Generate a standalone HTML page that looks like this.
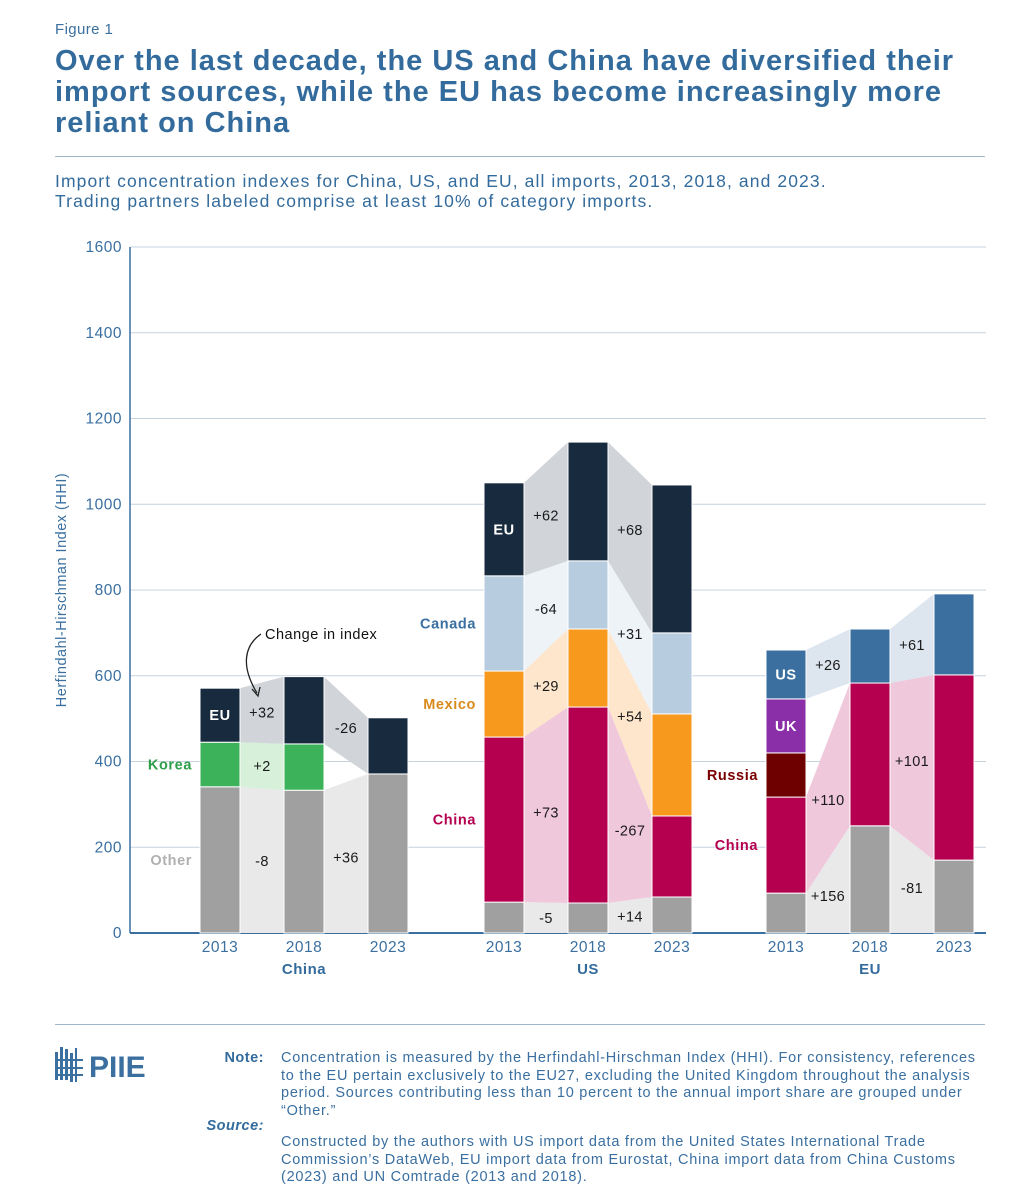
<!DOCTYPE html>
<html><head><meta charset="utf-8"><style>
body{margin:0;background:#fff;font-family:"Liberation Sans",sans-serif;}
#wrap{position:relative;width:1033px;height:1200px;overflow:hidden;background:#fff;}
.abs{position:absolute;white-space:nowrap;}
</style></head><body>
<div id="wrap">
<div class="abs" style="left:55px;top:21px;font-size:15px;color:#3a6fa0;letter-spacing:0.4px">Figure 1</div>
<div class="abs" style="left:55px;top:46px;font-size:29px;line-height:31px;font-weight:bold;color:#336b9c;letter-spacing:1px">Over the last decade, the US and China have diversified their<br>import sources, while the EU has become increasingly more<br>reliant on China</div>
<div class="abs" style="left:55px;top:156px;width:930px;height:1px;background:#9fb7cc"></div>
<div class="abs" style="left:55px;top:171px;font-size:17.5px;line-height:20px;color:#336b9c;letter-spacing:1.1px">Import concentration indexes for China, US, and EU, all imports, 2013, 2018, and 2023.<br>Trading partners labeled comprise at least 10% of category imports.</div>
<svg class="abs" style="left:0;top:0" width="1033" height="1000" id="chart"></svg>
<div class="abs" style="left:55px;top:1024px;width:930px;height:1px;background:#9fb7cc"></div>
<div class="abs" style="left:55px;top:1044px">
<svg width="110" height="42"><g fill="#3a6fa0"><rect x="0" y="8" width="3" height="28"/><rect x="5" y="3" width="3" height="33"/><rect x="10" y="5" width="3" height="31"/><rect x="15" y="9" width="3" height="29"/><rect x="20" y="4" width="2" height="34"/><rect x="0" y="15" width="28" height="2"/><rect x="0" y="23" width="28" height="2"/><rect x="0" y="30" width="28" height="2"/></g><text x="34" y="33" font-size="30" font-weight="bold" fill="#3a6fa0" font-family="Liberation Sans">PIIE</text></svg></div>
<div class="abs" style="left:200px;top:1050px;width:64px;text-align:right;font-size:14.5px;font-weight:bold;color:#336b9c;letter-spacing:0.5px">Note:</div>
<div class="abs" style="left:281px;top:1050px;font-size:14.5px;line-height:17.5px;color:#3a6fa0;letter-spacing:0.75px">Concentration is measured by the Herfindahl-Hirschman Index (HHI). For consistency, references<br>to the EU pertain exclusively to the EU27, excluding the United Kingdom throughout the analysis<br>period. Sources contributing less than 10 percent to the annual import share are grouped under<br>“Other.”</div>
<div class="abs" style="left:190px;top:1118px;width:74px;text-align:right;font-size:14.5px;font-weight:bold;font-style:italic;color:#336b9c;letter-spacing:0.5px">Source:</div>
<div class="abs" style="left:281px;top:1134px;font-size:14.5px;line-height:17.5px;color:#3a6fa0;letter-spacing:0.75px">Constructed by the authors with US import data from the United States International Trade<br>Commission’s DataWeb, EU import data from Eurostat, China import data from China Customs<br>(2023) and UN Comtrade (2013 and 2018).</div>
</div>
<script>
const years=["2013","2018","2023"];
const groups=["China","US","EU"];
const yTicks=[0,200,400,600,800,1000,1200,1400,1600];
const chinaSegs=["Other","Korea","EU"];
const chinaOther=[341,333,371];
const chinaKorea=[104,108,0];
const chinaEU=[126,157,131];
const chinaChanges=[["-8","+36"],["+2",""],["+32","-26"]];
const usSegs=["Other","China","Mexico","Canada","EU"];
const usOther=[72,70,84];
const usChina=[385,457,189];
const usMexico=[154,182,238];
const usCanada=[222,159,189];
const usEU=[217,277,345];
const usChanges=[["-5","+14"],["+73","-267"],["+29","+54"],["-64","+31"],["+62","+68"]];
const euSegs=["Other","China","Russia","UK","US"];
const euOther=[93,250,170];
const euChina=[224,333,432];
const euRussia=[103,0,0];
const euUK=[126,0,0];
const euUS=[114,126,189];
const euChanges=[["+156","-81"],["+110","+101"],["",""],["",""],["+26","+61"]];

const colors={Other:"#a0a0a0",Korea:"#3cb35a",EU:"#172a3e",China:"#b5004f",Mexico:"#f7991c",Canada:"#b8cce0",Russia:"#6e0000",UK:"#8b2fa8",US:"#3a6fa0"};
const conn={Other:"#e9e9e9",Korea:"#d6f0da",EU:"#d1d4d9",China:"#f0c8dc",Mexico:"#fde6cc",Canada:"#eef3f8",Russia:"#eee",UK:"#eee",US:"#dde6ef"};
const labelCol={Other:"#b0b0b0",Korea:"#2e9e4a",China:"#b5004f",Mexico:"#d98a1c",Canada:"#3a6fa0",Russia:"#7a0000"};
const inside={China:["EU"],US:["EU"],EU:["US","UK"]};
const data=[
 {segs:chinaSegs,vals:[chinaOther,chinaKorea,chinaEU],ch:chinaChanges},
 {segs:usSegs,vals:[usOther,usChina,usMexico,usCanada,usEU],ch:usChanges},
 {segs:euSegs,vals:[euOther,euChina,euRussia,euUK,euUS],ch:euChanges}];

const svg=document.getElementById('chart');
const NS="http://www.w3.org/2000/svg";
const y0=933,y1=247,x0=130,x1=986;
const yS=v=>y0-(v/1600)*(y0-y1);
const groupX=[200,484,766],step=84,bw=40;
const barX=(g,i)=>groupX[g]+i*step;
function el(t,a,p){const e=document.createElementNS(NS,t);for(const k in a)e.setAttribute(k,a[k]);(p||svg).appendChild(e);return e;}
function txt(x,y,s,a){const e=el('text',Object.assign({x:x,y:y,'font-family':'Liberation Sans','font-size':14},a));e.textContent=s;return e;}

yTicks.forEach(t=>{
 const g=el('line',{x1:x0,x2:x1,y1:yS(t),y2:yS(t),stroke:t===0?'#3a6fa0':'#c5d3e0','stroke-width':t===0?2:1});
 
 
 const l=txt(122,yS(t)+5,String(t),{'text-anchor':'end',fill:'#3a6fa0','font-size':15.5,'letter-spacing':'0.5'});
 
 
});
const ax=el('line',{x1:x0,x2:x0,y1:y1,y2:y0,stroke:'#3a6fa0','stroke-width':1.5});


const yt=txt(0,0,'Herfindahl-Hirschman Index (HHI)',{transform:'translate(66,590) rotate(-90)','text-anchor':'middle',fill:'#3a6fa0','font-size':14.5,'letter-spacing':'0.5'});



data.forEach((d,g)=>{
 const cum=years.map((_,i)=>{let c=0;return d.vals.map(v=>{const b=c;c+=v[i];return [b,c];});});
 d.segs.forEach((s,k)=>{
  for(let i=0;i<2;i++){
   const a=cum[i][k],b=cum[i+1][k];
   if(d.vals[k][i]>0&&d.vals[k][i+1]>0){
    const xa=barX(g,i)+bw,xb=barX(g,i+1);
    const p=el('polygon',{points:`${xa},${yS(a[0])} ${xa},${yS(a[1])} ${xb},${yS(b[1])} ${xb},${yS(b[0])}`,fill:conn[s]});
    
    
   }
   const lab=d.ch[k][i];
   if(lab){
    const m=((a[0]+a[1])/2+(b[0]+b[1])/2)/2;
    const t=txt(barX(g,i)+bw+22,yS(m)+5,lab,{'text-anchor':'middle',fill:'#1a1a1a','font-size':14.5,'letter-spacing':'0.4'});
    
    
   }
  }
 });
 years.forEach((yr,i)=>{
  d.segs.forEach((s,k)=>{
   const [b,t]=cum[i][k];if(t-b<=0)return;
   const r=el('rect',{x:barX(g,i),y:yS(t),width:bw,height:yS(b)-yS(t),fill:colors[s],stroke:'#fff','stroke-width':1});
   
   
   if(i===0){
    const mid=yS((b+t)/2)+5;
    if(inside[groups[g]].includes(s)){
     const l=txt(barX(g,0)+bw/2,mid,s,{'text-anchor':'middle',fill:'#fff','font-weight':'bold','font-size':14.5,'letter-spacing':'0.5'});
     
     
    }else if(!(s==='Other'&&g>0)){
     const l=txt(barX(g,0)-8,mid,s,{'text-anchor':'end',fill:labelCol[s],'font-weight':'bold','font-size':14.5,'letter-spacing':'0.6'});
     
     
    }
   }
  });
  const xl=txt(barX(g,i)+bw/2,952,yr,{'text-anchor':'middle',fill:'#3a6fa0','font-size':15.5,'letter-spacing':'0.5'});
  
  
 });
 const gl=txt(barX(g,1)+bw/2,974,groups[g],{'text-anchor':'middle',fill:'#336b9c','font-weight':'bold','font-size':15,'letter-spacing':'0.5'});
 
 
});
const ann=txt(265,639,'Change in index',{fill:'#111','font-size':14.5,'letter-spacing':'0.5'});


const arr=el('path',{d:'M261,634 C245,645 240,665 257,693',fill:'none',stroke:'#222','stroke-width':1.3});


const ah=el('path',{d:'M252,689 L258,696 L260,687',fill:'none',stroke:'#222','stroke-width':1.3});


</script>
</body></html>
